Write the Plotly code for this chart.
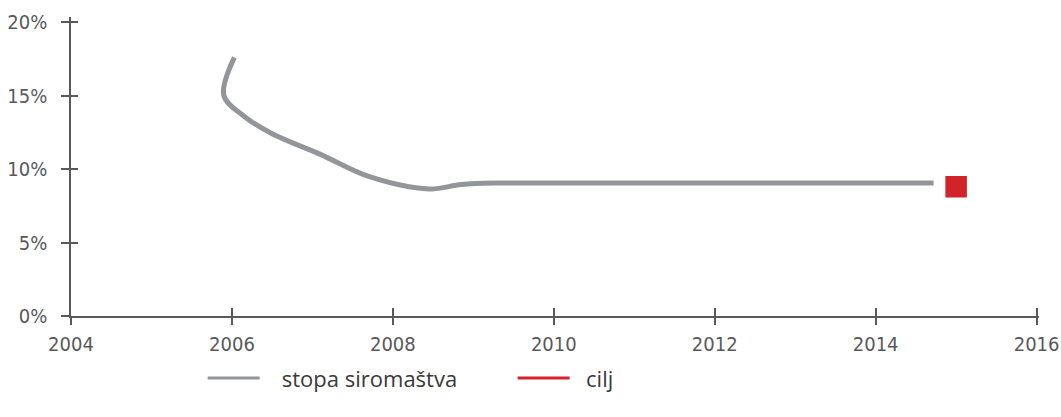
import plotly.graph_objects as go

# data
poverty_years = [2006.03, 2005.9, 2006.15, 2006.5, 2007.1, 2007.7, 2008.45, 2008.85, 2009.3, 2010, 2012, 2014.72]
poverty_rate = [17.6, 15.0, 13.6, 12.4, 11.0, 9.5, 8.65, 8.95, 9.05, 9.05, 9.05, 9.05]
target_year = [2015.0]
target_rate = [8.8]
x_ticks = [2004, 2006, 2008, 2010, 2012, 2014, 2016]
y_ticks = [0, 5, 10, 15, 20]
y_labels = ["0%", "5%", "10%", "15%", "20%"]

GRAY = "#939598"
RED = "#d2232a"
AXIS = "#58595b"
NB = "\u00a0"

fig = go.Figure()
fig.add_trace(go.Scatter(
    x=poverty_years, y=poverty_rate, mode="lines", name="stopa siromaštva", showlegend=False,
    line=dict(color=GRAY, width=5, shape="spline", smoothing=1.0),
))
fig.add_trace(go.Scatter(
    x=target_year, y=target_rate, mode="markers", name="cilj", showlegend=False,
    marker=dict(symbol="square", size=20, color=RED, line=dict(color=RED, width=1.5)),
))
# legend entries (lines)
fig.add_trace(go.Scatter(x=[None], y=[None], mode="lines", name=NB * 3 + "stopa siromaštva",
                         line=dict(color=GRAY, width=3)))
fig.add_trace(go.Scatter(x=[None], y=[None], mode="lines", name=NB * 2 + "cilj",
                         line=dict(color=RED, width=3)))
# invisible trace on overlay axes to draw inward tick halves
fig.add_trace(go.Scatter(x=[None], y=[None], xaxis="x2", yaxis="y2", showlegend=False))

tickfont = dict(family="Liberation Sans Narrow, DejaVu Sans Condensed, Roboto", size=20, color=AXIS)
xr = [2004, 2016.03]
yr = [0, 20.35]

fig.update_layout(
    width=1061, height=417,
    margin=dict(l=71, r=22, t=17, b=101),
    paper_bgcolor="white", plot_bgcolor="white",
    showlegend=True,
    legend=dict(
        orientation="h", x=0.136, xanchor="left", y=-0.138, yanchor="top",
        font=dict(family="Open Sans", size=22, color="#3a3a3a"),
        itemwidth=52, entrywidth=243,
    ),
    xaxis=dict(
        range=xr, tickvals=x_ticks, ticktext=[str(v) for v in x_ticks], automargin=False,
        showgrid=False, zeroline=False, showline=True, linecolor=AXIS, linewidth=1.5,
        ticks="outside", ticklen=7, tickcolor=AXIS, tickwidth=1.5, tickfont=tickfont,
        ticklabelstandoff=2,
    ),
    yaxis=dict(
        range=yr, tickvals=y_ticks, ticktext=y_labels, automargin=False,
        showgrid=False, zeroline=False, showline=True, linecolor=AXIS, linewidth=1.5,
        ticks="outside", ticklen=8, tickcolor=AXIS, tickwidth=1.5, tickfont=tickfont,
        ticklabelstandoff=10,
    ),
    xaxis2=dict(
        range=xr, overlaying="x", tickvals=x_ticks, automargin=False,
        showticklabels=False, showgrid=False, zeroline=False, showline=False,
        ticks="inside", ticklen=8, tickcolor=AXIS, tickwidth=1.5,
    ),
    yaxis2=dict(
        range=yr, overlaying="y", tickvals=y_ticks, automargin=False,
        showticklabels=False, showgrid=False, zeroline=False, showline=False,
        ticks="inside", ticklen=7, tickcolor=AXIS, tickwidth=1.5,
    ),
)

fig.write_html(
    "out.html",
    config={"displayModeBar": False},
    post_script="document.body.style.margin='0';document.body.style.overflow='hidden';",
)
